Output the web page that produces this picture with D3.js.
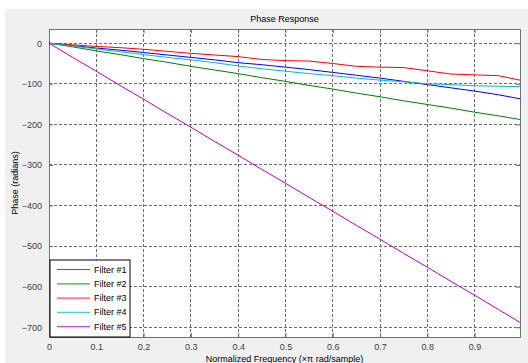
<!DOCTYPE html>
<html>
<head>
<meta charset="utf-8">
<script src="https://cdn.jsdelivr.net/npm/d3@7"></script>
<style>
  html, body { margin: 0; padding: 0; background: #fff; }
  svg { display: block; font-family: "Liberation Sans", Arial, sans-serif; }
</style>
</head>
<body>
<svg id="chart" width="528" height="363"></svg>
<script>
// normalized frequency (x pi rad/sample)
const freq = [0, 0.05, 0.1, 0.15, 0.2, 0.25, 0.3, 0.35, 0.4, 0.45, 0.5,
              0.55, 0.6, 0.65, 0.7, 0.75, 0.8, 0.85, 0.9, 0.95, 0.996];

// phase (radians) for each filter
const filter1 = [0, -6, -12, -17, -23, -29, -35, -41, -48, -53, -59,
                 -65, -72, -79, -86, -94, -102, -110, -118, -127, -137];
const filter2 = [0, -9, -19, -28, -38, -47, -57, -66, -75, -85, -94,
                 -104, -113, -123, -132, -142, -151, -160, -170, -179, -188];
const filter3 = [0, -4, -8, -11, -15, -20, -25, -29, -33, -40, -43,
                 -44, -50, -57, -59, -60, -68, -76, -78, -80, -91];
const filter4 = [0, -7, -14, -21, -28, -35, -41, -48, -56, -63, -69,
                 -75, -80, -86, -91, -95, -100, -102, -105, -106, -107];
const filter5 = [0, -35, -69, -104, -138, -173, -207, -242, -276, -311, -345,
                 -380, -414, -449, -483, -518, -552, -587, -621, -656, -688];

const seriesNames = ["Filter #1", "Filter #2", "Filter #3", "Filter #4", "Filter #5"];
const xTicks = [0, 0.1, 0.2, 0.3, 0.4, 0.5, 0.6, 0.7, 0.8, 0.9];
const yTicks = [0, -100, -200, -300, -400, -500, -600, -700];

const colors = ["#0000ff", "#008000", "#ff0000", "#00bfbf", "#bf00bf"];
const allSeries = [filter1, filter2, filter3, filter4, filter5];

const svg = d3.select("#chart");
const W = 528, H = 363;
const margin = {top: 29, right: 8, bottom: 26, left: 49};
const pw = W - margin.left - margin.right;
const ph = H - margin.top - margin.bottom;

// figure background
svg.append("rect").attr("x", 5).attr("y", 9).attr("width", W - 5).attr("height", H - 9)
  .attr("fill", "#f0f0f0");

const x = d3.scaleLinear().domain([0, 0.996]).range([0, pw]);
const y = d3.scaleLinear().domain([35, -724]).range([0, ph]);

const g = svg.append("g").attr("transform", `translate(${margin.left},${margin.top})`);

g.append("rect").attr("width", pw).attr("height", ph).attr("fill", "#fff");

// grid
g.append("g").selectAll("line").data(xTicks.slice(1)).join("line")
  .attr("x1", d => x(d)).attr("x2", d => x(d))
  .attr("y1", 0).attr("y2", ph)
  .attr("stroke", "#6e6e6e").attr("stroke-dasharray", "3,2")
  .attr("shape-rendering", "crispEdges");
g.append("g").selectAll("line").data(yTicks).join("line")
  .attr("x1", 0).attr("x2", pw)
  .attr("y1", d => y(d)).attr("y2", d => y(d))
  .attr("stroke", "#6e6e6e").attr("stroke-dasharray", "3,2")
  .attr("shape-rendering", "crispEdges");

// axes with inner ticks
const xAxis = g.append("g").attr("transform", `translate(0,${ph})`)
  .call(d3.axisBottom(x).tickValues(xTicks).tickSizeInner(-4).tickSizeOuter(0).tickPadding(7)
    .tickFormat(d => d === 0 ? "0" : d3.format(".1f")(d)));
const yAxis = g.append("g")
  .call(d3.axisLeft(y).tickValues(yTicks).tickSizeInner(-4).tickSizeOuter(0).tickPadding(7));
g.append("g").attr("transform", `translate(${pw},0)`)
  .call(d3.axisRight(y).tickValues(yTicks).tickSizeInner(-4).tickSizeOuter(0).tickFormat(""));
g.append("g")
  .call(d3.axisTop(x).tickValues(xTicks).tickSizeInner(-4).tickSizeOuter(0).tickFormat(""));

g.selectAll(".domain").attr("stroke", "#707070");
g.selectAll(".tick line").attr("stroke", "#707070");
g.selectAll(".tick text").attr("fill", "#404040").style("font-size", "9px")
  .style("font-family", "Liberation Sans, Arial, sans-serif");

// lines
const line = d3.line().x((d, i) => x(freq[i])).y(d => y(d));
g.append("g").selectAll("path").data(allSeries).join("path")
  .attr("d", d => line(d))
  .attr("fill", "none")
  .attr("stroke", (d, i) => colors[i])
  .attr("stroke-width", 1);

// titles
svg.append("text").attr("x", margin.left + pw / 2).attr("y", 22)
  .attr("text-anchor", "middle").style("font-size", "9px").attr("fill", "#000")
  .text("Phase Response");
svg.append("text").attr("x", margin.left + pw / 2).attr("y", 362)
  .attr("text-anchor", "middle").style("font-size", "9px").attr("fill", "#000")
  .text("Normalized Frequency (\u00d7\u03c0 rad/sample)");
svg.append("text").attr("transform", `translate(18,${margin.top + ph / 2}) rotate(-90)`)
  .attr("text-anchor", "middle").style("font-size", "9px").attr("fill", "#000")
  .text("Phase (radians)");

// legend
const legend = g.append("g").attr("transform", `translate(1,${ph - 77})`);
legend.append("rect").attr("width", 80).attr("height", 77)
  .attr("fill", "#fff").attr("stroke", "#000").attr("stroke-width", 1);
const item = legend.selectAll("g.item").data(seriesNames).join("g")
  .attr("class", "item")
  .attr("transform", (d, i) => `translate(0,${9.5 + i * 14.3})`);
item.append("line").attr("x1", 7).attr("x2", 40)
  .attr("stroke", (d, i) => colors[i]).attr("stroke-width", 1.2).attr("opacity", 0.7);
item.append("text").attr("x", 44).attr("y", 3).style("font-size", "9px").attr("fill", "#000")
  .text(d => d);
</script>
</body>
</html>
